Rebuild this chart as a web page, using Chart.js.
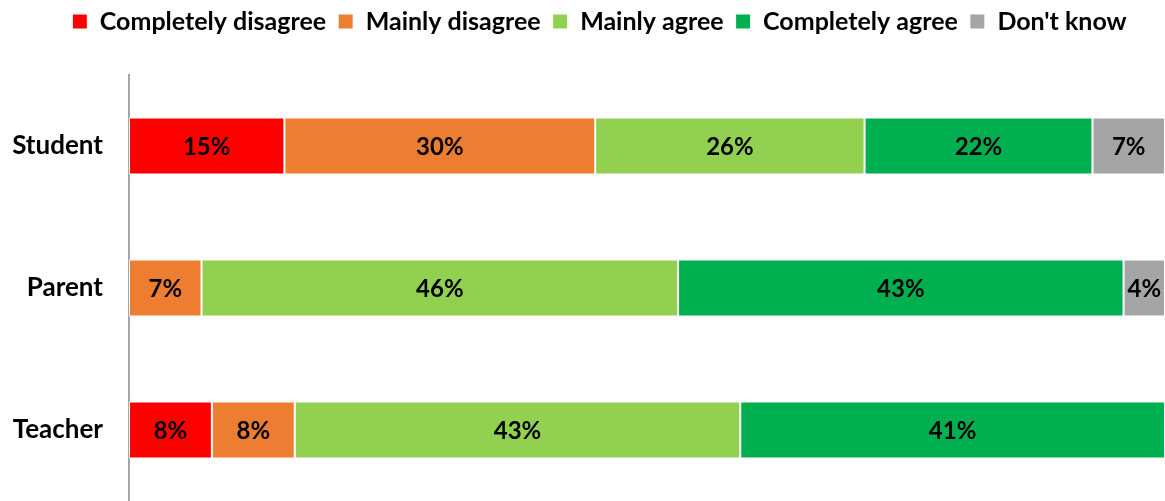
<!DOCTYPE html>
<html>
<head>
<meta charset="utf-8">
<script src="https://cdn.jsdelivr.net/npm/chart.js@4.4.1/dist/chart.umd.min.js"></script>
<style>
  body { margin: 0; background: #fff; }
  #wrap { width: 1165px; height: 501px; }
</style>
</head>
<body>
<div id="wrap"><canvas id="surveyChart"></canvas></div>
<script>
// answers per group, in percent
var groups = ["Student", "Parent", "Teacher"];
var completelyDisagree = [15, 0, 8];
var mainlyDisagree = [30, 7, 8];
var mainlyAgree = [26, 46, 43];
var completelyAgree = [22, 43, 41];
var dontKnow = [7, 4, 0];

var FONT = "Lato, 'Liberation Sans', sans-serif";

function series(label, values, color) {
  return {
    label: label,
    data: values,
    backgroundColor: color,
    borderColor: "#ffffff",
    borderWidth: 1,
    borderSkipped: false
  };
}

// write the percentage in the middle of each segment
var segmentLabels = {
  id: "segmentLabels",
  afterDatasetsDraw: function(chart) {
    var ctx = chart.ctx;
    ctx.save();
    ctx.font = "bold 24px " + FONT;
    ctx.fillStyle = "#000";
    ctx.textAlign = "center";
    ctx.textBaseline = "middle";
    chart.data.datasets.forEach(function(ds, i) {
      var meta = chart.getDatasetMeta(i);
      meta.data.forEach(function(bar, j) {
        var v = ds.data[j];
        if (!v) return;
        ctx.fillText(v + "%", (bar.x + bar.base) / 2, bar.y + 1);
      });
    });
    ctx.restore();
  }
};

// make room under the legend and nudge it a little
var legendSpace = {
  id: "legendSpace",
  beforeInit: function(chart) {
    var legend = chart.legend;
    var fit = legend.fit;
    var draw = legend.draw;
    legend.fit = function() {
      fit.bind(legend)();
      this.height = 75;
    };
    legend.draw = function() {
      chart.ctx.save();
      chart.ctx.translate(17, -3);
      draw.bind(legend)();
      chart.ctx.restore();
    };
  }
};

new Chart(document.getElementById("surveyChart"), {
  type: "bar",
  data: {
    labels: groups,
    datasets: [
      series("Completely disagree", completelyDisagree, "#FF0000"),
      series("Mainly disagree", mainlyDisagree, "#ED7D31"),
      series("Mainly agree", mainlyAgree, "#92D050"),
      series("Completely agree", completelyAgree, "#00B050"),
      series("Don't know", dontKnow, "#A5A5A5")
    ]
  },
  options: {
    indexAxis: "y",
    responsive: true,
    maintainAspectRatio: false,
    animation: false,
    layout: { padding: 0 },
    categoryPercentage: 1,
    barPercentage: 0.4,
    scales: {
      x: {
        stacked: true,
        display: false,
        min: 0,
        max: 100
      },
      y: {
        stacked: true,
        // invisible tick marks keep the labels away from the axis line
        grid: {
          display: true,
          drawOnChartArea: false,
          drawTicks: true,
          tickLength: 26,
          tickColor: "rgba(0,0,0,0)"
        },
        border: { display: true, color: "#A6A6A6", width: 2 },
        ticks: {
          color: "#000",
          padding: 0,
          font: { family: FONT, size: 26, weight: "bold" }
        },
        afterFit: function(scale) {
          scale.width = 129;
          // let the axis run down to the bottom edge
          scale.paddingTop = 0;
          scale.paddingBottom = 0;
        }
      }
    },
    plugins: {
      legend: {
        position: "top",
        labels: {
          color: "#000",
          boxWidth: 15,
          boxHeight: 15,
          padding: 12,
          font: { family: FONT, size: 25, weight: "bold" }
        }
      },
      tooltip: { enabled: false }
    }
  },
  plugins: [segmentLabels, legendSpace]
});
</script>
</body>
</html>
